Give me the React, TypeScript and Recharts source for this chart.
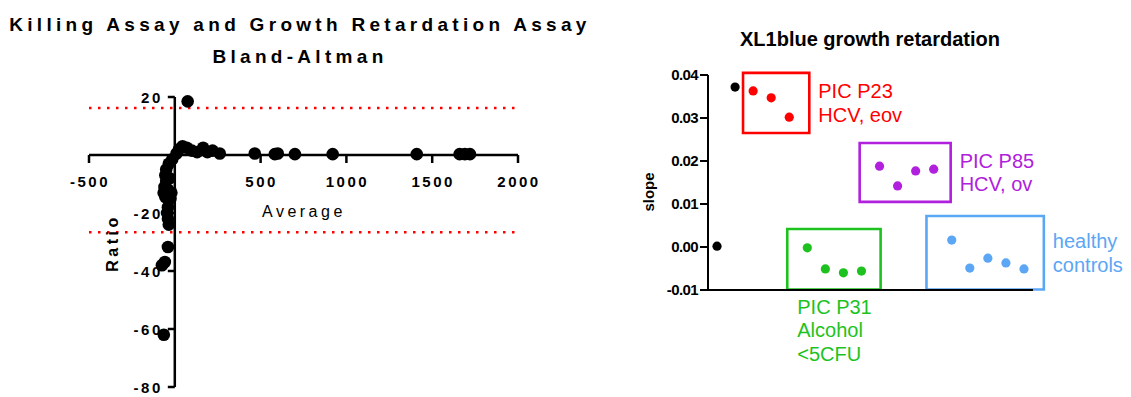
import { ReferenceArea, ReferenceLine, Scatter, ScatterChart, XAxis, YAxis } from "recharts";

// Bland-Altman: average vs ratio
const baAverage = [
  75, 10, 25, 45, 70, 100, 130, 165, 190, 220, 262, 466, 583, 600, 700, 920, 1410, 1660, 1690, 1720,
  -15, -35, -50, -55, -50, -60, -65, -55, -40, -25, -20, -30, -40, -45, -40, -35, -40, -58, -75, -64,
];
const baRatio = [
  18.5, 0.5, 2, 3, 2.5, 1.5, 1, 2.5, 1, 1.5, 0.5, 0.5, 0.3, 0.5, 0.3, 0.3, 0.3, 0.3, 0.3, 0.3,
  -1.5, -3, -5, -7, -9, -11, -13, -14.5, -12, -15, -13, -8, -18, -20, -22, -24, -31.7, -36.9, -38, -62,
];
const upperLimit = 16.2;
const lowerLimit = -26.6;
const baXTicks = [-500, 500, 1000, 1500, 2000];
const baYTicks = [20, -20, -40, -60, -80];

// XL1blue growth retardation: sample index vs slope
const ctrlIdx = [0, 1];
const ctrlSlope = [0.0002, 0.0372];
const p23Idx = [2, 3, 4];
const p23Slope = [0.0363, 0.0347, 0.0302];
const p31Idx = [5, 6, 7, 8];
const p31Slope = [-0.0002, -0.0051, -0.006, -0.0056];
const p85Idx = [9, 10, 11, 12];
const p85Slope = [0.0188, 0.0142, 0.0177, 0.0181];
const healthyIdx = [13, 14, 15, 16, 17];
const healthySlope = [0.0016, -0.0049, -0.0026, -0.0037, -0.0051];
const slopeTicks = [-0.01, 0, 0.01, 0.02, 0.03, 0.04];

const baData = baAverage.map((a, i) => ({ avg: a, ratio: baRatio[i] }));
const zip = (xs: number[], ys: number[]) => xs.map((x, i) => ({ idx: x, slope: ys[i] }));

const FONT = '"Liberation Sans", Arial, sans-serif';
const RED = "#ff0000";
const PURPLE = "#b020dd";
const GREEN = "#1ec21e";
const BLUE = "#5ba6f5";

// left chart geometry (axes cross at the origin)
const L = { w: 600, h: 397, top: 97, right: 82, bottom: 10, left: 89 };
const AX = 10; // size reserved for the axis boxes
const L_X = [-500, 2000];
const L_Y = [-80, 20];
const zeroY = L.top + ((L.h - L.top - L.bottom) * L_Y[1]) / (L_Y[1] - L_Y[0]);
const zeroX = L.left + ((L.w - L.left - L.right) * -L_X[0]) / (L_X[1] - L_X[0]);

const tickText = { fontFamily: FONT, fontSize: 15, fontWeight: 700, letterSpacing: 2.5, fill: "#000" };

const renderBaXTick = (props: any) => {
  const { x, payload } = props;
  return (
    <g>
      <line x1={x} x2={x} y1={zeroY} y2={zeroY + 8} stroke="#000" strokeWidth={2.5} />
      <text x={x + 1} y={zeroY + 32} textAnchor="middle" style={tickText}>
        {payload.value}
      </text>
    </g>
  );
};

const renderBaYTick = (props: any) => {
  const { y, payload } = props;
  return (
    <g>
      <line x1={zeroX - 7} x2={zeroX} y1={y} y2={y} stroke="#000" strokeWidth={2.5} />
      <text x={zeroX - 12} y={y + 5.5} textAnchor="end" style={tickText}>
        {payload.value}
      </text>
    </g>
  );
};

const BigDot = (p: any) => <circle cx={p.cx} cy={p.cy} r={6.3} fill="#000" />;
const SmallDot = (color: string) => (p: any) => <circle cx={p.cx} cy={p.cy} r={4.6} fill={color} />;

const GroupLabel = (props: any) => {
  const { viewBox, lines, color, below } = props;
  if (!viewBox) return null;
  const { x, y, width, height } = viewBox;
  const step = 23.5;
  const tx = below ? x + 10 : x + width + 9;
  const y0 = below ? y + height + 17 : y + height / 2 - (step * (lines.length - 1)) / 2;
  return (
    <text fill={color} style={{ fontFamily: FONT, fontSize: 20 }}>
      {lines.map((t: string, i: number) => (
        <tspan key={t} x={tx} y={y0 + i * step + 7}>
          {t}
        </tspan>
      ))}
    </text>
  );
};

const boxProps = { fill: "none", strokeWidth: 2.6, fillOpacity: 0, ifOverflow: "visible" as const };

export default function App() {
  return (
    <div style={{ position: "absolute", left: 0, top: 0, width: 1131, height: 397, background: "#fff" }}>
      <div
        style={{
          position: "absolute",
          left: 0,
          top: 9,
          width: 600,
          textAlign: "center",
          fontFamily: FONT,
          fontWeight: 700,
          fontSize: 19,
          letterSpacing: 4.3,
          lineHeight: "32px",
        }}
      >
        <div>Killing Assay and Growth Retardation Assay</div>
        <div>Bland-Altman</div>
      </div>

      <div style={{ position: "absolute", left: 0, top: 0 }}>
        <ScatterChart
          width={L.w}
          height={L.h}
          margin={{ top: L.top, right: L.right, bottom: L.bottom - AX, left: L.left - AX }}
        >
          <XAxis
            type="number"
            dataKey="avg"
            domain={L_X}
            ticks={baXTicks}
            interval={0}
            height={AX}
            axisLine={false}
            tickLine={false}
            tick={renderBaXTick}
          />
          <YAxis
            type="number"
            dataKey="ratio"
            domain={L_Y}
            ticks={baYTicks}
            interval={0}
            width={AX}
            axisLine={false}
            tickLine={false}
            tick={renderBaYTick}
          />
          <ReferenceLine y={upperLimit} stroke={RED} strokeWidth={2.5} strokeDasharray="2.5 6.5" />
          <ReferenceLine y={lowerLimit} stroke={RED} strokeWidth={2.5} strokeDasharray="2.5 6.5" />
          <ReferenceLine y={0} stroke="#000" strokeWidth={2.5} />
          <ReferenceLine x={0} stroke="#000" strokeWidth={2.5} />
          <Scatter data={baData} shape={BigDot} isAnimationActive={false} />
        </ScatterChart>
      </div>

      <div
        style={{
          position: "absolute",
          left: 262,
          top: 203,
          fontFamily: FONT,
          fontSize: 16,
          letterSpacing: 3.5,
        }}
      >
        Average
      </div>
      <div
        style={{
          position: "absolute",
          left: 113,
          top: 243,
          transform: "translate(-50%, -50%) rotate(-90deg)",
          fontFamily: FONT,
          fontWeight: 700,
          fontSize: 16,
          letterSpacing: 3.5,
        }}
      >
        Ratio
      </div>

      <div
        style={{
          position: "absolute",
          left: 600,
          top: 28,
          width: 540,
          textAlign: "center",
          fontFamily: FONT,
          fontWeight: 700,
          fontSize: 20,
        }}
      >
        XL1blue growth retardation
      </div>
      <div
        style={{
          position: "absolute",
          left: 648,
          top: 192,
          transform: "translate(-50%, -50%) rotate(-90deg)",
          fontFamily: FONT,
          fontWeight: 700,
          fontSize: 15,
        }}
      >
        slope
      </div>

      <div style={{ position: "absolute", left: 600, top: 0 }}>
        <ScatterChart width={531} height={397} margin={{ top: 75, right: 98, bottom: 107 - AX, left: 0 }}>
          <XAxis
            type="number"
            dataKey="idx"
            domain={[-0.5, 17.5]}
            height={AX}
            tick={false}
            tickLine={false}
            axisLine={{ stroke: "#000", strokeWidth: 2 }}
          />
          <YAxis
            type="number"
            dataKey="slope"
            domain={[-0.01, 0.04]}
            ticks={slopeTicks}
            interval={0}
            width={108}
            tickSize={8}
            tickMargin={2}
            tickFormatter={(v: number) => v.toFixed(2)}
            tick={{ fill: "#000", fontFamily: FONT, fontSize: 15, fontWeight: 700, letterSpacing: -0.6 }}
            axisLine={{ stroke: "#000", strokeWidth: 2 }}
            tickLine={{ stroke: "#000", strokeWidth: 2 }}
          />
          <ReferenceArea
            x1={1.44}
            x2={5.11}
            y1={0.0265}
            y2={0.0405}
            stroke={RED}
            {...boxProps}
            label={<GroupLabel lines={["PIC P23", "HCV, eov"]} color={RED} />}
          />
          <ReferenceArea
            x1={7.9}
            x2={12.94}
            y1={0.0105}
            y2={0.0242}
            stroke={PURPLE}
            {...boxProps}
            label={<GroupLabel lines={["PIC P85", "HCV, ov"]} color={PURPLE} />}
          />
          <ReferenceArea
            x1={3.89}
            x2={9.06}
            y1={-0.0099}
            y2={0.0042}
            stroke={GREEN}
            {...boxProps}
            label={<GroupLabel lines={["PIC P31", "Alcohol", "<5CFU"]} color={GREEN} below />}
          />
          <ReferenceArea
            x1={11.6}
            x2={18.1}
            y1={-0.0099}
            y2={0.0072}
            stroke={BLUE}
            {...boxProps}
            label={<GroupLabel lines={["healthy", "controls"]} color={BLUE} />}
          />
          <Scatter data={zip(ctrlIdx, ctrlSlope)} shape={SmallDot("#000")} isAnimationActive={false} />
          <Scatter data={zip(p23Idx, p23Slope)} shape={SmallDot(RED)} isAnimationActive={false} />
          <Scatter data={zip(p31Idx, p31Slope)} shape={SmallDot(GREEN)} isAnimationActive={false} />
          <Scatter data={zip(p85Idx, p85Slope)} shape={SmallDot(PURPLE)} isAnimationActive={false} />
          <Scatter data={zip(healthyIdx, healthySlope)} shape={SmallDot(BLUE)} isAnimationActive={false} />
        </ScatterChart>
      </div>
    </div>
  );
}
